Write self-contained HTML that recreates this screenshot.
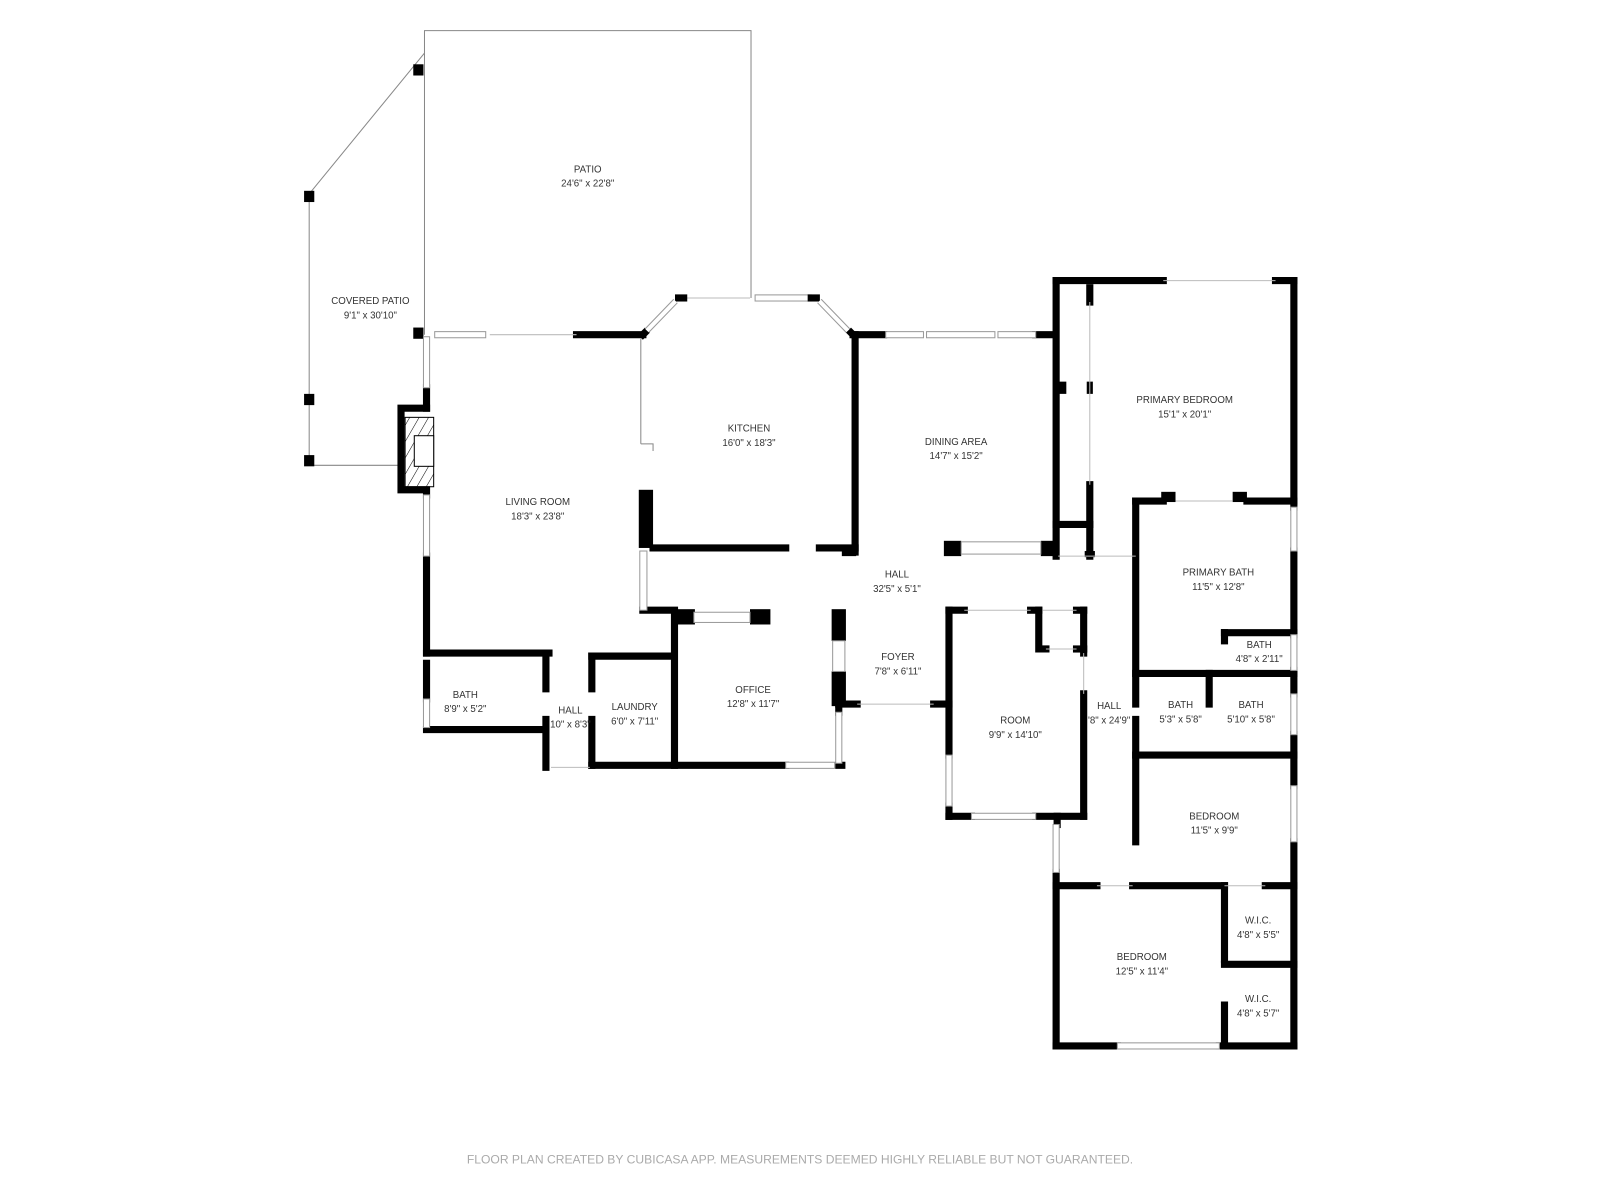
<!DOCTYPE html>
<html><head><meta charset="utf-8"><style>
html,body{margin:0;padding:0;background:#fff;width:1600px;height:1200px;overflow:hidden}
svg{display:block}
text{font-family:"Liberation Sans",sans-serif;font-size:9.5px;fill:#333;text-anchor:middle}
</style></head><body>
<svg width="1600" height="1200" viewBox="0 0 1568 1176" xmlns="http://www.w3.org/2000/svg">
<g stroke="#888" stroke-width="1" fill="none">
<polyline points="416,328 416,30 736,30 736,292"/>
<polyline points="416,52 303,190 303,456 392,456"/>
<line x1="628" y1="332" x2="628" y2="435"/>
<polyline points="628,435 640,435 640,442"/>
</g>
<g fill="#000">
<rect x="405" y="63" width="10" height="11"/>
<rect x="298" y="187" width="10" height="11"/>
<rect x="298" y="386" width="10" height="11"/>
<rect x="298" y="446" width="10" height="11"/>
<rect x="405" y="321" width="10" height="11"/>
</g>
<g stroke="#000" stroke-width="7" stroke-linecap="square" fill="none">
<line x1="565" y1="328" x2="630" y2="328"/>
<line x1="836" y1="328" x2="866" y2="328"/>
<line x1="1015" y1="328" x2="1032" y2="328"/>
<line x1="838" y1="328" x2="838" y2="541"/>
<line x1="640" y1="537" x2="770" y2="537"/>
<line x1="803" y1="537" x2="838" y2="537"/>
<line x1="418" y1="545" x2="418" y2="640"/>
<line x1="418" y1="380" x2="418" y2="400"/>
<polyline points="418,400 393,400 393,480 418,480 418,485"/>
<line x1="418" y1="640" x2="538" y2="640"/>
<line x1="580" y1="643" x2="660" y2="643"/>
<line x1="418" y1="650" x2="418" y2="685"/>
<line x1="418" y1="715" x2="535" y2="715"/>
<line x1="535" y1="640" x2="535" y2="675"/>
<line x1="535" y1="705" x2="535" y2="752"/>
<line x1="580" y1="643" x2="580" y2="675"/>
<line x1="580" y1="705" x2="580" y2="750"/>
<line x1="580" y1="750" x2="770" y2="750"/>
<line x1="661" y1="600" x2="661" y2="750"/>
<line x1="630" y1="598" x2="661" y2="598"/>
<line x1="822" y1="690" x2="840" y2="690"/>
<line x1="915" y1="690" x2="930" y2="690"/>
<line x1="930" y1="598" x2="930" y2="740"/>
<line x1="930" y1="790" x2="930" y2="800"/>
<line x1="930" y1="800" x2="952" y2="800"/>
<line x1="1015" y1="800" x2="1062" y2="800"/>
<line x1="930" y1="598" x2="945" y2="598"/>
<line x1="1010" y1="598" x2="1018" y2="598"/>
<line x1="1055" y1="598" x2="1062" y2="598"/>
<polyline points="1018,598 1018,636 1025,636"/>
<line x1="1062" y1="598" x2="1062" y2="640"/>
<line x1="1062" y1="680" x2="1062" y2="800"/>
<line x1="1055" y1="636" x2="1062" y2="636"/>
<line x1="1036" y1="800" x2="1036" y2="808"/>
<line x1="1035" y1="275" x2="1035" y2="545"/>
<line x1="1035" y1="275" x2="1140" y2="275"/>
<line x1="1250" y1="275" x2="1268" y2="275"/>
<line x1="1268" y1="275" x2="1268" y2="497"/>
<line x1="1268" y1="540" x2="1268" y2="622"/>
<line x1="1268" y1="657" x2="1268" y2="680"/>
<line x1="1268" y1="720" x2="1268" y2="770"/>
<line x1="1268" y1="825" x2="1268" y2="1025"/>
<line x1="1068" y1="282" x2="1068" y2="296"/>
<line x1="1068" y1="475" x2="1068" y2="545"/>
<line x1="1035" y1="514" x2="1068" y2="514"/>
<line x1="1113" y1="491" x2="1140" y2="491"/>
<line x1="1222" y1="491" x2="1268" y2="491"/>
<line x1="1113" y1="491" x2="1113" y2="690"/>
<line x1="1113" y1="705" x2="1113" y2="825"/>
<line x1="1200" y1="620" x2="1268" y2="620"/>
<line x1="1200" y1="620" x2="1200" y2="628"/>
<line x1="1113" y1="660" x2="1268" y2="660"/>
<line x1="1185" y1="660" x2="1185" y2="690"/>
<line x1="1113" y1="740" x2="1268" y2="740"/>
<line x1="1035" y1="868" x2="1075" y2="868"/>
<line x1="1110" y1="868" x2="1200" y2="868"/>
<line x1="1240" y1="868" x2="1268" y2="868"/>
<line x1="1035" y1="855" x2="1035" y2="1025"/>
<line x1="1035" y1="1025" x2="1095" y2="1025"/>
<line x1="1195" y1="1025" x2="1268" y2="1025"/>
<line x1="1200" y1="868" x2="1200" y2="940"/>
<line x1="1200" y1="985" x2="1200" y2="1025"/>
<line x1="1200" y1="945" x2="1268" y2="945"/>
<line x1="822" y1="690" x2="822" y2="698"/>
<line x1="822" y1="750" x2="825" y2="750"/>
</g>
<g fill="#000">
<rect x="626" y="480" width="14" height="57"/>
<rect x="661" y="597" width="20" height="15"/>
<rect x="735" y="597" width="20" height="15"/>
<rect x="815" y="597" width="14" height="31"/>
<rect x="815" y="658" width="14" height="34"/>
<rect x="825" y="535" width="14" height="10"/>
<rect x="925" y="530" width="17" height="15"/>
<rect x="1020" y="530" width="17" height="15"/>
<rect x="1063" y="540" width="10" height="6"/>
<rect x="1035" y="374" width="10" height="12"/>
<rect x="1065" y="374" width="6" height="12"/>
<rect x="1138" y="482" width="14" height="10"/>
<rect x="1208" y="482" width="14" height="10"/>
</g>
<defs><pattern id="h" width="8" height="8" patternUnits="userSpaceOnUse" patternTransform="rotate(30)"><line x1="0" y1="0" x2="0" y2="8" stroke="#000" stroke-width="1"/></pattern></defs>
<rect x="397" y="409" width="28" height="68" fill="url(#h)" stroke="#000" stroke-width="1"/>
<rect x="406" y="427" width="19" height="30" fill="#fff" stroke="#000" stroke-width="1"/>
<g fill="#fff" stroke="#999" stroke-width="1">
<rect x="426" y="325" width="50" height="6"/>
<rect x="740" y="289" width="55" height="6"/>
<rect x="868" y="325" width="37" height="6"/><rect x="908" y="325" width="67" height="6"/><rect x="978" y="325" width="37" height="6"/>
<rect x="415" y="330" width="6" height="50"/>
<rect x="415" y="485" width="6" height="60"/>
<rect x="415" y="685" width="6" height="28"/>
<rect x="770" y="747" width="48" height="6"/>
<rect x="819" y="698" width="6" height="50"/>
<rect x="927" y="740" width="6" height="50"/>
<rect x="952" y="797" width="63" height="6"/>
<rect x="1032" y="808" width="6" height="47"/>
<rect x="1265" y="497" width="6" height="43"/>
<rect x="1265" y="622" width="6" height="35"/>
<rect x="1265" y="680" width="6" height="40"/>
<rect x="1265" y="770" width="6" height="55"/>
<rect x="1095" y="1022" width="100" height="6"/>
<rect x="680" y="600" width="55" height="10"/>
<rect x="942" y="531" width="78" height="12"/>
<rect x="627" y="540" width="7" height="58"/>
<rect x="816" y="628" width="12" height="30"/>
</g>
<g stroke="#bbb" stroke-width="1" fill="none">
<line x1="480" y1="328" x2="565" y2="328"/>
<line x1="670" y1="292" x2="735" y2="292"/>
<line x1="1140" y1="275" x2="1250" y2="275"/>
<line x1="1068" y1="296" x2="1068" y2="475"/>
<line x1="1152" y1="491" x2="1208" y2="491"/>
<line x1="945" y1="598" x2="1010" y2="598"/>
<line x1="1022" y1="598" x2="1055" y2="598"/>
<line x1="1025" y1="636" x2="1055" y2="636"/>
<line x1="1062" y1="640" x2="1062" y2="680"/>
<line x1="840" y1="690" x2="915" y2="690"/>
<line x1="540" y1="752" x2="578" y2="752"/>
<line x1="1075" y1="868" x2="1110" y2="868"/>
<line x1="1200" y1="868" x2="1240" y2="868"/>
<line x1="1037" y1="545" x2="1113" y2="545"/>
</g>
<g stroke="#000" stroke-width="7" stroke-linecap="square">
<line x1="630" y1="328" x2="632" y2="326"/>
<line x1="665" y1="292" x2="670" y2="292"/>
<line x1="795" y1="292" x2="800" y2="292"/>
<line x1="834" y1="326" x2="836" y2="328"/>
</g>
<g stroke="#999" stroke-width="6" stroke-linecap="butt"><line x1="634" y1="324" x2="662" y2="295"/><line x1="803" y1="295" x2="831" y2="324"/></g>
<g stroke="#fff" stroke-width="4"><line x1="634" y1="324" x2="662" y2="295"/><line x1="803" y1="295" x2="831" y2="324"/></g>
<text x="576" y="169">PATIO</text><text x="576" y="183">24'6" x 22'8"</text>
<text x="363" y="298">COVERED PATIO</text><text x="363" y="312">9'1" x 30'10"</text>
<text x="734" y="423">KITCHEN</text><text x="734" y="437">16'0" x 18'3"</text>
<text x="937" y="436">DINING AREA</text><text x="937" y="450">14'7" x 15'2"</text>
<text x="527" y="495">LIVING ROOM</text><text x="527" y="509">18'3" x 23'8"</text>
<text x="1161" y="395">PRIMARY BEDROOM</text><text x="1161" y="409">15'1" x 20'1"</text>
<text x="1194" y="564">PRIMARY BATH</text><text x="1194" y="578">11'5" x 12'8"</text>
<text x="1234" y="635">BATH</text><text x="1234" y="649">4'8" x 2'11"</text>
<text x="879" y="566">HALL</text><text x="879" y="580">32'5" x 5'1"</text>
<text x="880" y="647">FOYER</text><text x="880" y="661">7'8" x 6'11"</text>
<text x="738" y="679">OFFICE</text><text x="738" y="693">12'8" x 11'7"</text>
<text x="456" y="684">BATH</text><text x="456" y="698">8'9" x 5'2"</text>
<text x="559" y="699">HALL</text><text x="559" y="713">10" x 8'3"</text>
<text x="622" y="696">LAUNDRY</text><text x="622" y="710">6'0" x 7'11"</text>
<text x="995" y="709">ROOM</text><text x="995" y="723">9'9" x 14'10"</text>
<text x="1087" y="695">HALL</text><text x="1087" y="709">'8" x 24'9"</text>
<text x="1157" y="694">BATH</text><text x="1157" y="708">5'3" x 5'8"</text>
<text x="1226" y="694">BATH</text><text x="1226" y="708">5'10" x 5'8"</text>
<text x="1190" y="803">BEDROOM</text><text x="1190" y="817">11'5" x 9'9"</text>
<text x="1233" y="905">W.I.C.</text><text x="1233" y="919">4'8" x 5'5"</text>
<text x="1119" y="941">BEDROOM</text><text x="1119" y="955">12'5" x 11'4"</text>
<text x="1233" y="982">W.I.C.</text><text x="1233" y="996">4'8" x 5'7"</text>
<text x="784" y="1140" textLength="653" lengthAdjust="spacingAndGlyphs" style="fill:#aaa;font-size:12px">FLOOR PLAN CREATED BY CUBICASA APP. MEASUREMENTS DEEMED HIGHLY RELIABLE BUT NOT GUARANTEED.</text>
</svg>
</body></html>
